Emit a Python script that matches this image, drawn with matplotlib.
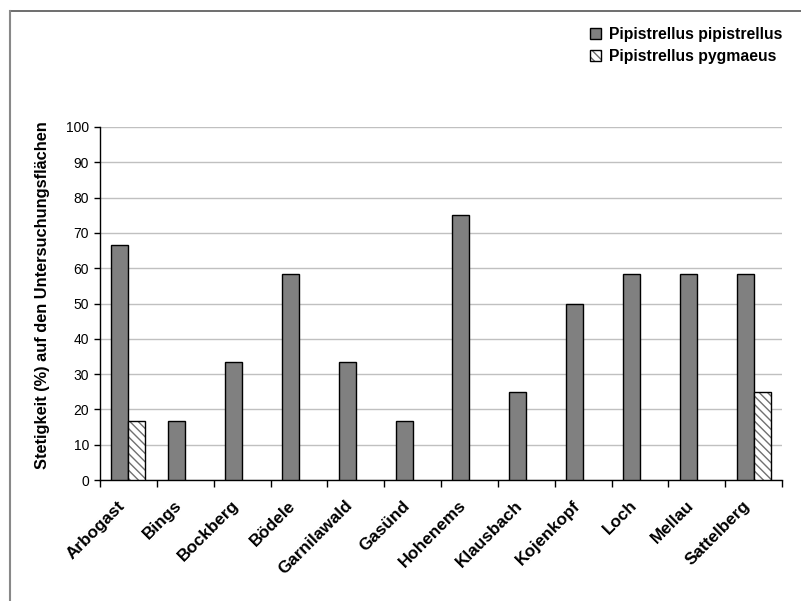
import matplotlib
matplotlib.use("Agg")
import matplotlib.pyplot as plt
import matplotlib.transforms as mtransforms
import numpy as np
from matplotlib.lines import Line2D
from matplotlib.patches import Patch
from matplotlib.legend_handler import HandlerTuple

plt.rcParams['font.family'] = ['Liberation Sans', 'DejaVu Sans']

sites = ["Arbogast", "Bings", "Bockberg", "Bödele", "Garnilawald", "Gasünd",
         "Hohenems", "Klausbach", "Kojenkopf", "Loch", "Mellau", "Sattelberg"]
pipistrellus = [66.7, 16.7, 33.3, 58.3, 33.3, 16.7, 75.0, 25.0, 50.0, 58.3, 58.3, 58.3]
pygmaeus = [16.7, 0, 0, 0, 0, 0, 0, 0, 0, 0, 0, 25.0]
series_names = ["Pipistrellus pipistrellus", "Pipistrellus pygmaeus"]
yticks = list(range(0, 101, 10))

W, H = 801, 601
fig = plt.figure(figsize=(W / 100, H / 100), dpi=100)
ax = fig.add_axes([100 / W, (H - 480) / H, (782 - 100) / W, (480 - 127) / H])

x = np.arange(len(sites))
bw = 0.3
gray = "#808080"
hatch_gray = "#707070"

ax.bar(x - bw / 2, pipistrellus, width=bw, color=gray, edgecolor="black",
       linewidth=1.0, zorder=3)
# hatched series: hatch drawn in gray, outline drawn separately in black
pyg = np.array(pygmaeus)
mask = pyg > 0
ax.bar(x[mask] + bw / 2, pyg[mask], width=bw, color="white", edgecolor=hatch_gray,
       hatch="\\\\\\\\", linewidth=0, zorder=3)
ax.bar(x[mask] + bw / 2, pyg[mask], width=bw, fill=False, edgecolor="black",
       linewidth=1.0, zorder=4)

ax.set_xlim(-0.5, len(sites) - 0.5)
ax.set_ylim(0, 100)
ax.set_yticks(yticks)
ax.tick_params(axis="y", labelsize=10, length=4, width=1, direction="out", pad=4)
ax.yaxis.grid(True, color="#c0c0c0", linewidth=1.0, zorder=0)
ax.set_axisbelow(True)

ax.set_xticks(x)
ax.set_xticklabels(sites, rotation=45, ha="right", rotation_mode="anchor",
                   fontsize=12.3, fontweight="bold")
ax.tick_params(axis="x", which="major", length=0, pad=10)
ax.set_xticks(np.arange(-0.5, len(sites)), minor=True)
ax.tick_params(axis="x", which="minor", length=5, width=1, direction="out")
shift = mtransforms.ScaledTranslation(-0.11, -0.04, fig.dpi_scale_trans)
for lbl in ax.get_xticklabels():
    lbl.set_transform(lbl.get_transform() + shift)

for s in ["top", "right"]:
    ax.spines[s].set_visible(False)
for s in ["left", "bottom"]:
    ax.spines[s].set_color("black")
    ax.spines[s].set_linewidth(1.0)

ax.set_ylabel("Stetigkeit (%) auf den Untersuchungsflächen", fontsize=11.8,
              fontweight="bold")
ax.yaxis.set_label_coords(-0.074, 0.525)

h1 = Patch(facecolor=gray, edgecolor="black", linewidth=1.0)
h2a = Patch(facecolor="white", edgecolor=hatch_gray, hatch="\\\\\\\\", linewidth=0)
h2b = Patch(fill=False, edgecolor="black", linewidth=1.0)
fig.legend([h1, (h2a, h2b)], series_names, loc="upper right",
           bbox_to_anchor=(796 / W, 1 - 13 / H), frameon=False,
           prop={"weight": "bold", "size": 11.3}, handlelength=0.75,
           handleheight=0.75, handletextpad=0.45, labelspacing=0.45,
           handler_map={tuple: HandlerTuple(ndivide=1, pad=0)})

# chart frame lines along the top and left edges
fig.add_artist(Line2D([9.5 / W, 1], [1 - 11 / H, 1 - 11 / H], color="#555555",
                      linewidth=1.2, transform=fig.transFigure))
fig.add_artist(Line2D([9.5 / W, 9.5 / W], [0, 1 - 11 / H], color="#888888",
                      linewidth=1.5, transform=fig.transFigure))

fig.savefig("out.png", dpi=100)
